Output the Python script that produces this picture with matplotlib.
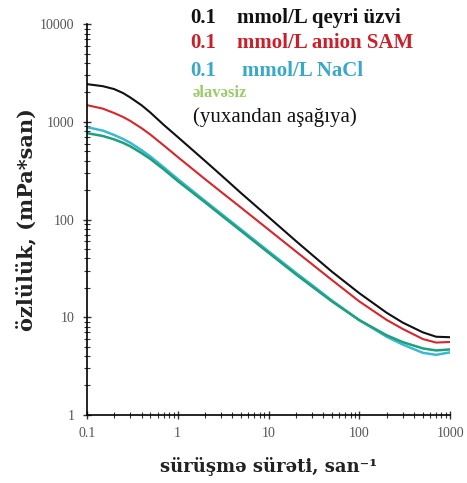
import numpy as np
import matplotlib.pyplot as plt
from matplotlib.ticker import LogLocator, NullFormatter, FixedLocator

# shear rate, 1/s
shear = [0.1, 0.15, 0.2, 0.25, 0.3, 0.4, 0.5, 0.7, 1, 2, 3, 5, 10, 20, 30, 50,
         100, 200, 300, 500, 700, 1000]

# viscosity, mPa*s (top to bottom)
visc_inorganic = [2432, 2317, 2163, 1972, 1778, 1479, 1245, 933, 700, 398, 285, 186,
                  106, 60.3, 43.7, 29.2, 17.6, 11.1, 8.81, 7.00, 6.31, 6.24]
visc_anionic = [1483, 1365, 1230, 1122, 1023, 861, 741, 575, 437, 259, 192, 132,
                78.9, 47.2, 35.0, 24.0, 14.5, 9.38, 7.59, 5.98, 5.50, 5.58]
visc_nacl = [883, 813, 733, 668, 610, 513, 442, 343, 260, 155, 115, 78.9,
             47.3, 28.5, 21.4, 14.8, 9.33, 6.31, 5.25, 4.32, 4.12, 4.37]
visc_none = [767, 716, 661, 610, 562, 479, 417, 327, 248, 150, 111, 76.2,
             45.7, 27.5, 20.7, 14.5, 9.33, 6.53, 5.56, 4.79, 4.57, 4.68]

yticks = [1, 10, 100, 1000, 10000]
xticks = [0.1, 1, 10, 100, 1000]

serif = ['Liberation Serif', 'DejaVu Serif']

fig = plt.figure(figsize=(4.67, 4.83), dpi=100)
ax = fig.add_axes([0.186, 0.141, 0.778, 0.809])

ax.plot(shear, visc_inorganic, color='#111111', lw=1.5)
ax.plot(shear, visc_anionic, color='#d7262c', lw=1.5)
ax.plot(shear, visc_nacl, color='#3cb8d2', lw=1.8)
ax.plot(shear, visc_none, color='#1f9f7c', lw=1.8)

ax.set_xscale('log')
ax.set_yscale('log')
ax.set_xlim(0.1, 1000)
ax.set_ylim(1, 10000)

ax.spines['top'].set_visible(False)
ax.spines['right'].set_visible(False)
ax.spines['left'].set_linewidth(1.2)
ax.spines['bottom'].set_linewidth(1.2)

ax.xaxis.set_major_locator(FixedLocator(xticks))
ax.yaxis.set_major_locator(FixedLocator(yticks))
ax.set_xticklabels(['0.1', '1', '10', '100', '1000'])
ax.set_yticklabels(['1', '10', '100', '1000', '10000'])
ax.xaxis.set_minor_locator(LogLocator(base=10, subs=np.arange(2, 10)))
ax.yaxis.set_minor_locator(LogLocator(base=10, subs=np.arange(2, 10)))
ax.xaxis.set_minor_formatter(NullFormatter())
ax.yaxis.set_minor_formatter(NullFormatter())
ax.tick_params(which='major', direction='inout', length=6, width=1, color='#333333',
               labelsize=10, labelcolor='#555555', pad=6)
ax.tick_params(which='minor', direction='inout', length=4, width=0.8, color='#333333')
for lab in ax.get_xticklabels() + ax.get_yticklabels():
    lab.set_family(serif)

ax.set_ylabel('özlülük, (mPa*san)', family=['DejaVu Serif'], fontweight='bold',
              fontsize=15, color='#222222', labelpad=2)
ax.set_xlabel('sürüşmə sürəti, san⁻¹', family=['DejaVu Serif'], fontweight='bold',
              fontsize=13, color='#222222', labelpad=12)

# legend written as coloured text lines
rows = [
    ('0.1', 'mmol/L qeyri üzvi', '#111111', 237),
    ('0.1', 'mmol/L anion SAM', '#c9202a', 237),
    ('0.1', 'mmol/L NaCl', '#3aa8c8', 242),
]
ys = [18, 43, 71]
for (num, txt, col, x2), y in zip(rows, ys):
    fig.text(190 / 467, 1 - y / 483, num, family=serif, fontweight='bold',
             fontsize=15, color=col, va='center', ha='left')
    fig.text(x2 / 467, 1 - y / 483, txt, family=serif, fontweight='bold',
             fontsize=15, color=col, va='center', ha='left')
fig.text(193 / 467, 1 - 93 / 483, 'əlavəsiz', family=serif, fontsize=12,
         fontweight='bold', color='#9bcb6a', va='center', ha='left')
fig.text(193 / 467, 1 - 117 / 483, '(yuxandan aşağıya)', family=serif,
         fontsize=15, color='#111111', va='center', ha='left')

fig.savefig('out.png', dpi=100)
